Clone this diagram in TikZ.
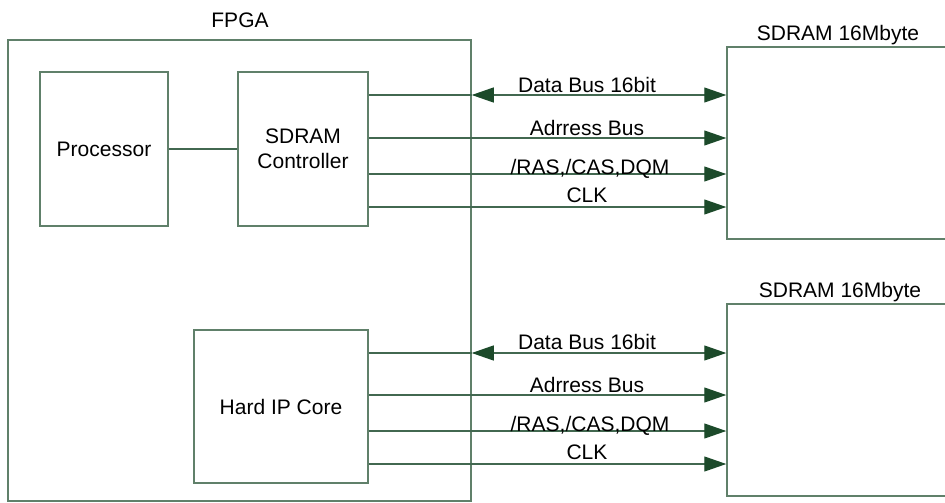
\documentclass[tikz,border=0pt]{standalone}
\usepackage{fontspec}
\setmainfont{Liberation Sans}
\usetikzlibrary{arrows.meta}
\definecolor{boxline}{RGB}{96,128,106}
\definecolor{wirecol}{RGB}{66,104,80}
\definecolor{tipgreen}{RGB}{28,74,42}
\begin{document}
\begin{tikzpicture}[x=1pt,y=-1pt,
  font=\fontsize{21}{25}\selectfont,
  block/.style={draw=boxline, line width=1.5pt, inner sep=0pt, align=center},
  wire/.style={draw=wirecol, line width=1.2pt},
  tip/.tip={Triangle[length=22pt,width=15pt,color=tipgreen]},
  sig/.style={wire, -tip},
  bidir/.style={wire, tip-tip},
  lbl/.style={anchor=base, inner sep=0pt}]
\useasboundingbox (0,0) rectangle (945,503);
\clip (0,0) rectangle (945,503);

% FPGA and its blocks
\node[block, minimum width=463pt, minimum height=461pt] (fpga) at (239.5,270.5) {};
\node[lbl] (fpgalbl) at (240,27.5) {FPGA};
\node[block, minimum width=128pt, minimum height=154pt] (cpu) at (104,149) {Processor};
\node[block, minimum width=130pt, minimum height=154pt] (ctrl) at (303,149) {SDRAM\\[0pt]Controller};
\node[block, minimum width=174pt, minimum height=153pt] (hip) at (281,406.5) {Hard IP Core};

% memory chips (their right sides run past the page edge)
\node[block, minimum width=243pt, minimum height=192pt] (sd1) at (848.5,143) {};
\node[lbl] (sd1lbl) at (838,41) {SDRAM 16Mbyte};
\node[block, minimum width=243pt, minimum height=192pt] (sd2) at (848.5,400) {};
\node[lbl] (sd2lbl) at (840,297) {SDRAM 16Mbyte};

% signal rows
\coordinate (a1) at (0,95);
\coordinate (a2) at (0,138);
\coordinate (a3) at (0,174);
\coordinate (a4) at (0,207);
\coordinate (b1) at (0,353);
\coordinate (b2) at (0,395);
\coordinate (b3) at (0,431);
\coordinate (b4) at (0,464);

\draw[wire] (cpu.east) -- (ctrl.west);

% controller to first SDRAM
\draw[wire] (ctrl.east |- a1) -- (fpga.east |- a1);
\draw[bidir] (fpga.east |- a1) -- (sd1.west |- a1);
\draw[sig] (ctrl.east |- a2) -- (sd1.west |- a2);
\draw[sig] (ctrl.east |- a3) -- (sd1.west |- a3);
\draw[sig] (ctrl.east |- a4) -- (sd1.west |- a4);

% hard IP core to second SDRAM
\draw[wire] (hip.east |- b1) -- (fpga.east |- b1);
\draw[bidir] (fpga.east |- b1) -- (sd2.west |- b1);
\draw[sig] (hip.east |- b2) -- (sd2.west |- b2);
\draw[sig] (hip.east |- b3) -- (sd2.west |- b3);
\draw[sig] (hip.east |- b4) -- (sd2.west |- b4);

% bus labels
\node[lbl] (la1) at (587,92.5) {Data Bus 16bit};
\node[lbl] (la2) at (587,135.5) {Adrress Bus};
\node[lbl] (la3) at (590,174.5) {/RAS,/CAS,DQM};
\node[lbl] (la4) at (587,202.5) {CLK};
\node[lbl] (lb1) at (587,349) {Data Bus 16bit};
\node[lbl] (lb2) at (587,392.5) {Adrress Bus};
\node[lbl] (lb3) at (590,431.5) {/RAS,/CAS,DQM};
\node[lbl] (lb4) at (587,459) {CLK};
\end{tikzpicture}
\end{document}
